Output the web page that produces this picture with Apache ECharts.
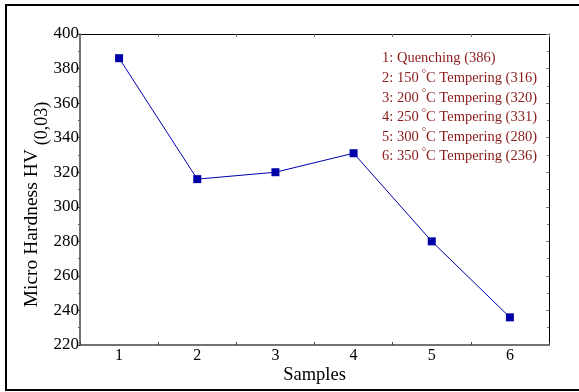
<!DOCTYPE html>
<html>
<head>
<meta charset="utf-8">
<script src="https://cdn.jsdelivr.net/npm/echarts@6/dist/echarts.min.js"></script>
<style>
  html, body { margin: 0; padding: 0; background: #fff; }
  #chart { width: 579px; height: 392px; }
</style>
</head>
<body>
<div id="chart"></div>
<script>
// Sample numbers and their micro hardness values
const samples = ['1', '2', '3', '4', '5', '6'];
const hardness = [386, 316, 320, 331, 280, 236];
// Treatment of each sample (temperature in °C, empty for quenching)
const treatments = ['Quenching', '150', '200', '250', '300', '350'];
const yTicks = { min: 220, max: 400, step: 20 };

const serif = '"Liberation Serif", "DejaVu Serif", serif';
const lineBlue = '#0000a8';
const noteRed = '#8b1a1a';

// Note block listing each sample's treatment and value
const noteLines = samples.map((s, i) => {
  if (i === 0) return `{t|${s}: ${treatments[i]} (${hardness[i]})}`;
  return `{t|${s}: ${treatments[i]}}{d|°}{t|C Tempering (${hardness[i]})}`;
}).join('\n');

const chart = echarts.init(document.getElementById('chart'));
chart.setOption({
  animation: false,
  backgroundColor: '#fff',
  grid: { left: 80, top: 34, right: 30, bottom: 47, containLabel: false, outerBoundsMode: 'none' },
  xAxis: [{
    type: 'category',
    data: samples,
    boundaryGap: true,
    name: 'Samples',
    nameLocation: 'middle',
    nameGap: 21,
    nameMoveOverlap: false,
    nameTextStyle: { fontFamily: serif, fontSize: 18.5, color: '#000' },
    axisLine: { lineStyle: { color: '#444', width: 1.5 } },
    axisTick: { show: true, inside: true, length: 3, lineStyle: { color: '#444' } },
    axisLabel: { fontFamily: serif, fontSize: 16, color: '#000', margin: 3 },
    splitLine: { show: false }
  }, {
    type: 'category',
    data: samples,
    position: 'top',
    boundaryGap: true,
    axisLine: { show: true, lineStyle: { color: '#000', width: 1 } },
    axisTick: { show: true, inside: true, length: 3, alignWithLabel: false, lineStyle: { color: '#777' } },
    axisLabel: { show: false },
    splitLine: { show: false }
  }],
  yAxis: [{
    type: 'value',
    min: yTicks.min,
    max: yTicks.max,
    interval: yTicks.step,
    name: '{a|Micro Hardness HV}{b|(0,03)}',
    nameLocation: 'middle',
    nameGap: 30,
    nameMoveOverlap: false,
    nameTextStyle: {
      fontFamily: serif,
      color: '#000',
      rich: {
        a: { fontFamily: serif, fontSize: 19.5, color: '#000', lineHeight: 36 },
        b: { fontFamily: serif, fontSize: 18, color: '#000', lineHeight: 16, padding: [20, 30, 0, 4] }
      }
    },
    axisLine: { show: true, lineStyle: { color: '#444', width: 1.5 } },
    axisTick: { show: true, inside: false, length: 2, lineStyle: { color: '#444' } },
    minorTick: { show: true, splitNumber: 2, length: 2, lineStyle: { color: '#666' } },
    axisLabel: { fontFamily: serif, fontSize: 17, color: '#000', margin: 1 },
    splitLine: { show: false }
  }, {
    type: 'value',
    position: 'right',
    min: yTicks.min,
    max: yTicks.max,
    interval: yTicks.step,
    axisLine: { show: true, lineStyle: { color: '#000', width: 1 } },
    axisTick: { show: true, inside: true, length: 3, lineStyle: { color: '#777' } },
    minorTick: { show: true, splitNumber: 2, length: 2, lineStyle: { color: '#777' } },
    axisLabel: { show: false },
    splitLine: { show: false }
  }],
  series: [{
    type: 'line',
    data: hardness,
    symbol: 'rect',
    symbolSize: 8,
    lineStyle: { color: lineBlue, width: 1 },
    itemStyle: { color: lineBlue },
    label: { show: false }
  }],
  graphic: [{
    type: 'rect',
    shape: { x: 6, y: 5, width: 600, height: 385 },
    style: { fill: 'none', stroke: '#000', lineWidth: 2 },
    silent: true
  }, {
    type: 'text',
    left: 382,
    top: 51,
    style: {
      text: noteLines,
      rich: {
        t: { fontFamily: serif, fontSize: 14.5, fill: noteRed, lineHeight: 19.6 },
        d: { fontFamily: serif, fontSize: 11, fill: noteRed, verticalAlign: 'top', padding: [0, 0, 6, 3], lineHeight: 19.6 }
      }
    }
  }]
});
</script>
</body>
</html>
